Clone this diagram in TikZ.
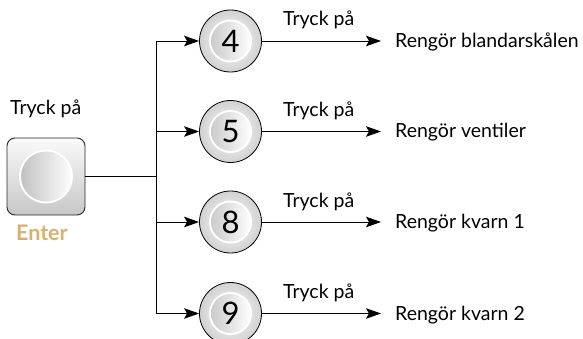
\documentclass[tikz,border=0pt]{standalone}
\usepackage{fontspec}
\setmainfont{Lato}
\usetikzlibrary{arrows.meta}
\definecolor{entertan}{RGB}{214,178,112}
\definecolor{edgegray}{RGB}{40,40,40}
\tikzset{
  conn/.style={line width=0.9pt, draw=black},
  arr/.style={conn, -{Stealth[length=15pt,width=10.5pt,inset=3pt]}},
  lbl/.style={font=\fontsize{19.5}{22}\selectfont, inner sep=0pt, anchor=base west},
  numcirc/.style={circle, minimum size=62pt, inner sep=0pt, draw=black, line width=0.8pt,
    inner color=white, outer color=black!18,
    font=\fontsize{31}{33}\selectfont,
    path picture={
      \fill[white] (path picture bounding box.center) circle (21.5pt);
      \shade[left color=black!20, right color=black!1]
        (path picture bounding box.center) circle (19.5pt);
    }},
  btnbox/.style={rounded corners=8pt, draw=edgegray, line width=0.9pt,
    minimum width=78pt, minimum height=77pt, inner sep=0pt,
    top color=black!2, bottom color=black!22,
    path picture={
      \fill[white] (path picture bounding box.center) circle (27pt);
      \shade[left color=black!24, right color=black!1]
        (path picture bounding box.center) circle (25pt);
    }},
}
\begin{document}
\begin{tikzpicture}[x=1pt,y=-1pt]
\clip (0,0) rectangle (583,339);
\fill[white] (0,0) rectangle (583,339);
% Enter button
\node[btnbox] (btn) at (46,176.5) {};
\node[lbl] (tl) at (10,115) {Tryck på};
\node[lbl, font=\fontsize{21.5}{24}\selectfont\bfseries, text=entertan] (ent) at (16,240) {Enter};
\coordinate (j) at (156,176.5);
% number circles
\node[numcirc] (c4) at (230.5,41) {4};
\node[numcirc] (c5) at (230.5,131.5) {5};
\node[numcirc] (c8) at (230.5,222) {8};
\node[numcirc] (c9) at (230.5,313.5) {9};
% labels above arrows
\node[lbl] (p4) at (283,25.5) {Tryck på};
\node[lbl] (p5) at (283,116.5) {Tryck på};
\node[lbl] (p8) at (283,207) {Tryck på};
\node[lbl] (p9) at (283,298.5) {Tryck på};
% results
\node[lbl] (r4) at (395,47.5) {Rengör blandarskålen};
\node[lbl] (r5) at (395,138) {Rengör ventiler};
\node[lbl] (r8) at (395,228.5) {Rengör kvarn 1};
\node[lbl] (r9) at (395,320) {Rengör kvarn 2};
\coordinate (e4) at (381,41);
\coordinate (e5) at (381,131.5);
\coordinate (e8) at (381,222);
\coordinate (e9) at (381,313.5);
% connectors
\draw[conn] (btn.east) -- (j);
\draw[arr] (j) |- (c4.west);
\draw[arr] (j) |- (c5.west);
\draw[arr] (j) |- (c8.west);
\draw[arr] (j) |- (c9.west);
\draw[arr] (c4.east) -- (e4);
\draw[arr] (c5.east) -- (e5);
\draw[arr] (c8.east) -- (e8);
\draw[arr] (c9.east) -- (e9);
\end{tikzpicture}
\end{document}
